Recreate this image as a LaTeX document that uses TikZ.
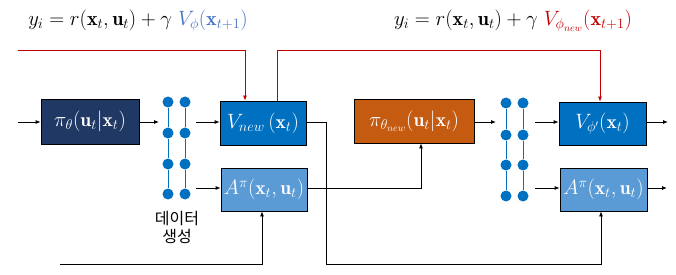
\documentclass[tikz,border=0pt]{standalone}
\usepackage{fontspec}
\usepackage{amsmath}
\newfontfamily\krfont{Noto Sans CJK KR}
\usetikzlibrary{arrows.meta,calc}
\definecolor{navy}{RGB}{31,56,100}
\definecolor{vblue}{RGB}{0,112,192}
\definecolor{lblue}{RGB}{91,155,213}
\definecolor{orng}{RGB}{197,90,17}
\definecolor{dred}{RGB}{192,0,0}
\definecolor{fblue}{RGB}{68,114,196}
\begin{document}
\begin{tikzpicture}[x=1pt,y=-1pt,
  box/.style={draw=black,line width=0.8pt,inner sep=0pt,text=white,font=\fontsize{19.5}{22}\selectfont},
  dot/.style={circle,fill=vblue,inner sep=0pt,minimum size=11pt},
  dline/.style={vblue,line width=1pt},
  arr/.style={line width=0.8pt,-{Latex[length=5pt,width=4pt]}},
  ln/.style={line width=0.8pt},
  redarr/.style={dred,line width=0.8pt,-{Latex[length=5pt,width=4pt]}},
  eq/.style={font=\fontsize{20}{22}\selectfont,inner sep=0pt}]
\useasboundingbox (0,0) rectangle (676,275);
% formulas
\node[eq] (f1) at (138,21) {$y_i = r(\mathbf{x}_t,\mathbf{u}_t) + \gamma\ \textcolor{fblue}{V_{\phi}(\mathbf{x}_{t+1})}$};
\node[eq] (f2) at (513,21) {$y_i = r(\mathbf{x}_t,\mathbf{u}_t) + \gamma\ \textcolor{dred}{V_{\phi_{new}}(\mathbf{x}_{t+1})}$};
% boxes
\node[box,fill=navy,minimum width=98pt,minimum height=45pt] (b1) at (90,121.5) {$\pi_{\theta}(\mathbf{u}_t|\mathbf{x}_t)$};
\node[box,fill=vblue,minimum width=86pt,minimum height=44pt] (vn) at (263,123) {$V_{new}\,(\mathbf{x}_t)$};
\node[box,fill=lblue,minimum width=86pt,minimum height=43pt] (a1) at (264,189.5) {$A^{\pi}(\mathbf{x}_t,\mathbf{u}_t)$};
\node[box,fill=orng,minimum width=120pt,minimum height=44pt] (pn) at (414,121) {$\pi_{\theta_{new}}(\mathbf{u}_t|\mathbf{x}_t)$};
\node[box,fill=vblue,minimum width=87pt,minimum height=43pt] (vp) at (602.5,123.5) {$V_{\phi'}(\mathbf{x}_t)$};
\node[box,fill=lblue,minimum width=87pt,minimum height=43pt] (a2) at (603.5,189.5) {$A^{\pi}(\mathbf{x}_t,\mathbf{u}_t)$};
% dots group 1
\foreach \c/\x in {a/168,b/185}{
  \foreach \r/\y in {1/102,2/133,3/164,4/194}{
    \node[dot] (g\c\r) at (\x,\y) {};
  }
  \draw[dline] (g\c1) -- (g\c2) -- (g\c3) -- (g\c4);
}
% dots group 2
\foreach \c/\x in {a/506,b/523}{
  \foreach \r/\y in {1/103,2/135,3/165,4/196}{
    \node[dot] (h\c\r) at (\x,\y) {};
  }
  \draw[dline] (h\c1) -- (h\c2) -- (h\c3) -- (h\c4);
}
\node[font=\krfont\fontsize{16}{18}\selectfont,align=center,inner sep=0pt] (lbl) at (177,227) {데이터\\생성};
% coordinates
\coordinate (in1) at (18,122);
\coordinate (o1) at (159,122);
\coordinate (s1) at (196,122);
\coordinate (s1b) at (196,188);
\coordinate (o2) at (496,122);
\coordinate (s2) at (535,122);
\coordinate (s2b) at (535,188);
\coordinate (e1) at (668,122);
\coordinate (e2) at (667,188);
\coordinate (r0) at (18,50);
\coordinate (ra) at (245,50);
\coordinate (rb) at (277,50);
\coordinate (rc) at (600,50);
\coordinate (bl) at (60,264);
\coordinate (bla) at (262,264);
\coordinate (vr) at (326,122);
\coordinate (vrb) at (326,264);
\coordinate (bra) at (601,264);
\coordinate (ar) at (421,188);
% connectors
\draw[arr] (in1) -- (b1.west|-in1);
\draw[arr] (b1.east|-o1) -- (o1);
\draw[arr] (s1) -- (vn.west|-s1);
\draw[arr] (s1b) -- (a1.west|-s1b);
\draw[arr] (pn.east|-o2) -- (o2);
\draw[arr] (s2) -- (vp.west|-s2);
\draw[arr] (s2b) -- (a2.west|-s2b);
\draw[arr] (vp.east|-e1) -- (e1);
\draw[arr] (a2.east|-e2) -- (e2);
\draw[redarr] (r0) -- (ra) -- (ra|-vn.north);
\draw[redarr] (rb|-vn.north) -- (rb) -- (rc) -- (rc|-vp.north);
\draw[arr] (bl) -- (bla) -- (bla|-a1.south);
\draw[arr] (vn.east|-vr) -- (vr) -- (vrb) -- (bra) -- (bra|-a2.south);
\draw[arr] (a1.east|-ar) -- (ar) -- (ar|-pn.south);
\end{tikzpicture}
\end{document}
